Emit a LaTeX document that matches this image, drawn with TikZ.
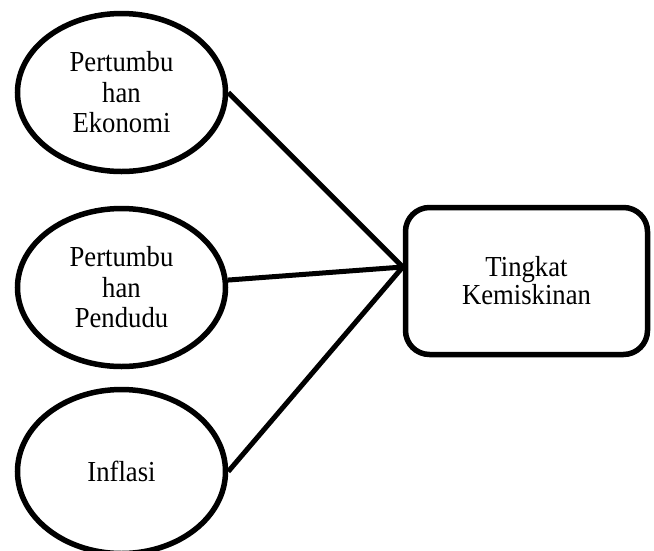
\documentclass[tikz,border=0pt]{standalone}
\usepackage{fontspec}
\setmainfont{Liberation Serif}
\newfontfamily\labelfont[FakeStretch=0.92]{Liberation Serif}
\usetikzlibrary{positioning,shapes.geometric}

\tikzset{
  factor/.style={ellipse, draw, line width=5.5pt, minimum width=208pt, minimum height=158pt,
    inner sep=0pt, align=center, font=\labelfont\fontsize{29}{30.5}\selectfont},
  result/.style={rectangle, rounded corners=24pt, draw, line width=5.5pt, minimum width=242pt,
    minimum height=147pt, align=center, font=\labelfont\fontsize{29}{28}\selectfont},
  link/.style={line width=5pt}
}

\begin{document}
\begin{tikzpicture}[x=1pt,y=-1pt,on grid]
   \useasboundingbox (0,0) rectangle (654,550);
   \node[factor] (eko) at (121.5,92.5) {Pertumbu\\han\\Ekonomi};
   \node[factor] (pend) [below=195pt of eko] {Pertumbu\\han\\Pendudu};
   \node[factor, minimum height=164pt] (inf) [below=184pt of pend] {Inflasi};
   \node[result] (kem) at (526.5,281) {Tingkat\\Kemiskinan};
   \coordinate (hub) at ([yshift=14pt]kem.west);
    \draw[link] (eko.east) -- (hub);
    \draw[link] (pend.4) -- (hub);
    \draw[link] (inf.east) -- (hub);
\end{tikzpicture}
\end{document}
